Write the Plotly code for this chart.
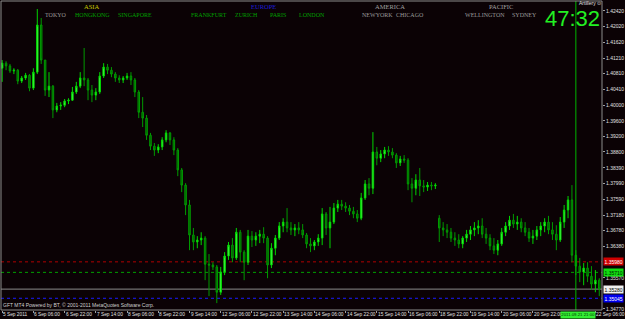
import plotly.graph_objects as go

# ---------------- data (EURUSD) ----------------
open_ = [
    1.4095, 1.4108, 1.4101, 1.4088, 1.4090, 1.4062, 1.4070, 1.4077, 1.4044, 1.4085,
    1.4206, 1.4116, 1.4039, 1.4049, 1.3988, 1.3998, 1.4000, 1.4011, 1.4013, 1.4034,
    1.4049, 1.4070, 1.4065, 1.4039, 1.4026, 1.4034, 1.4075, 1.4098, 1.4090, 1.4080,
    1.4070, 1.4065, 1.4070, 1.4075, 1.4065, 1.4034, 1.3982, 1.3967, 1.3923, 1.3895,
    1.3885, 1.3893, 1.3911, 1.3929, 1.3911, 1.3885, 1.3834, 1.3795, 1.3744, 1.3667,
    1.3649, 1.3654, 1.3659, 1.3592, 1.3590, 1.3585, 1.3520, 1.3572, 1.3613, 1.3641,
    1.3608, 1.3674, 1.3623, 1.3597, 1.3664, 1.3654, 1.3664, 1.3669, 1.3659, 1.3590,
    1.3633, 1.3659, 1.3690, 1.3700, 1.3685, 1.3680, 1.3685, 1.3680, 1.3667, 1.3644,
    1.3639, 1.3649, 1.3659, 1.3721, 1.3685, 1.3700, 1.3736, 1.3746, 1.3741, 1.3736,
    1.3728, 1.3721, 1.3710, 1.3762, 1.3798, 1.3787, 1.3880, 1.3864, 1.3875, 1.3885,
    1.3880, 1.3872, 1.3852, 1.3862, 1.3859, 1.3798, 1.3787, 1.3808, 1.3793, 1.3790,
    1.3795, 1.3793, 1.3710, 1.3685, 1.3680, 1.3674, 1.3659, 1.3654, 1.3644, 1.3659,
    1.3669, 1.3680, 1.3685, 1.3690, 1.3669, 1.3659, 1.3639, 1.3628, 1.3644, 1.3674,
    1.3690, 1.3705, 1.3695, 1.3700, 1.3685, 1.3674, 1.3659, 1.3664, 1.3680, 1.3690,
    1.3700, 1.3680, 1.3669, 1.3654, 1.3700, 1.3731, 1.3757, 1.3615, 1.3587, 1.3572,
    1.3582, 1.3561, 1.3541, 1.3551]

high = [
    1.4116, 1.4113, 1.4106, 1.4095, 1.4093, 1.4075, 1.4083, 1.4080, 1.4095, 1.4247,
    1.4224, 1.4116, 1.4085, 1.4052, 1.4006, 1.4008, 1.4016, 1.4018, 1.4047, 1.4060,
    1.4085, 1.4147, 1.4070, 1.4052, 1.4044, 1.4085, 1.4108, 1.4106, 1.4098, 1.4085,
    1.4077, 1.4075, 1.4083, 1.4085, 1.4070, 1.4039, 1.4021, 1.3975, 1.3929, 1.3903,
    1.3900, 1.3918, 1.3936, 1.3931, 1.3918, 1.3890, 1.3839, 1.3800, 1.3757, 1.3685,
    1.3664, 1.3674, 1.3664, 1.3618, 1.3597, 1.3590, 1.3585, 1.3623, 1.3649, 1.3659,
    1.3685, 1.3680, 1.3628, 1.3680, 1.3677, 1.3674, 1.3680, 1.3687, 1.3664, 1.3646,
    1.3667, 1.3700, 1.3710, 1.3736, 1.3700, 1.3695, 1.3700, 1.3695, 1.3672, 1.3659,
    1.3654, 1.3669, 1.3736, 1.3726, 1.3739, 1.3749, 1.3757, 1.3757, 1.3751, 1.3744,
    1.3739, 1.3731, 1.3775, 1.3808, 1.3813, 1.3931, 1.3893, 1.3885, 1.3893, 1.3895,
    1.3890, 1.3877, 1.3870, 1.3872, 1.3864, 1.3813, 1.3823, 1.3839, 1.3808, 1.3803,
    1.3803, 1.3800, 1.3718, 1.3700, 1.3695, 1.3685, 1.3674, 1.3669, 1.3664, 1.3680,
    1.3690, 1.3700, 1.3705, 1.3710, 1.3685, 1.3669, 1.3659, 1.3654, 1.3685, 1.3700,
    1.3716, 1.3721, 1.3716, 1.3710, 1.3700, 1.3685, 1.3680, 1.3690, 1.3700, 1.3710,
    1.3716, 1.3700, 1.3692, 1.3713, 1.3744, 1.3767, 1.3795, 1.3628, 1.3608, 1.3595,
    1.3597, 1.3587, 1.3577, 1.3556]

low = [
    1.4060, 1.4090, 1.4083, 1.4080, 1.4054, 1.4057, 1.4065, 1.4036, 1.4039, 1.4080,
    1.4106, 1.4024, 1.4021, 1.3967, 1.3982, 1.3988, 1.3995, 1.4003, 1.4011, 1.4029,
    1.4044, 1.4049, 1.4013, 1.4008, 1.4013, 1.4029, 1.4070, 1.4080, 1.4072, 1.4060,
    1.4057, 1.4057, 1.4065, 1.4052, 1.4021, 1.3967, 1.3944, 1.3911, 1.3885, 1.3870,
    1.3877, 1.3885, 1.3905, 1.3898, 1.3872, 1.3818, 1.3777, 1.3718, 1.3628, 1.3628,
    1.3633, 1.3641, 1.3551, 1.3510, 1.3577, 1.3492, 1.3513, 1.3564, 1.3603, 1.3597,
    1.3603, 1.3597, 1.3551, 1.3590, 1.3636, 1.3639, 1.3646, 1.3646, 1.3556, 1.3582,
    1.3615, 1.3654, 1.3674, 1.3674, 1.3667, 1.3664, 1.3669, 1.3659, 1.3633, 1.3623,
    1.3628, 1.3639, 1.3641, 1.3667, 1.3633, 1.3695, 1.3726, 1.3731, 1.3726, 1.3718,
    1.3710, 1.3700, 1.3705, 1.3757, 1.3769, 1.3772, 1.3846, 1.3854, 1.3864, 1.3870,
    1.3864, 1.3839, 1.3844, 1.3852, 1.3782, 1.3751, 1.3769, 1.3767, 1.3777, 1.3780,
    1.3782, 1.3785, 1.3649, 1.3664, 1.3659, 1.3649, 1.3639, 1.3633, 1.3633, 1.3649,
    1.3654, 1.3664, 1.3669, 1.3659, 1.3644, 1.3628, 1.3618, 1.3615, 1.3639, 1.3664,
    1.3680, 1.3685, 1.3680, 1.3674, 1.3664, 1.3649, 1.3644, 1.3654, 1.3664, 1.3674,
    1.3669, 1.3654, 1.3628, 1.3649, 1.3685, 1.3710, 1.3597, 1.3564, 1.3546, 1.3538,
    1.3546, 1.3526, 1.3520, 1.3510]

close = [
    1.4108, 1.4101, 1.4088, 1.4090, 1.4062, 1.4070, 1.4077, 1.4044, 1.4085, 1.4206,
    1.4116, 1.4039, 1.4049, 1.3988, 1.3998, 1.4000, 1.4011, 1.4013, 1.4034, 1.4049,
    1.4070, 1.4065, 1.4039, 1.4026, 1.4034, 1.4075, 1.4098, 1.4090, 1.4080, 1.4070,
    1.4065, 1.4070, 1.4075, 1.4065, 1.4034, 1.3982, 1.3967, 1.3923, 1.3895, 1.3885,
    1.3893, 1.3911, 1.3929, 1.3911, 1.3885, 1.3834, 1.3795, 1.3744, 1.3667, 1.3649,
    1.3654, 1.3659, 1.3592, 1.3590, 1.3585, 1.3520, 1.3572, 1.3613, 1.3641, 1.3608,
    1.3674, 1.3623, 1.3597, 1.3664, 1.3654, 1.3664, 1.3669, 1.3659, 1.3590, 1.3633,
    1.3659, 1.3690, 1.3700, 1.3685, 1.3680, 1.3685, 1.3680, 1.3667, 1.3644, 1.3639,
    1.3649, 1.3659, 1.3721, 1.3685, 1.3700, 1.3736, 1.3746, 1.3741, 1.3736, 1.3728,
    1.3721, 1.3710, 1.3762, 1.3798, 1.3787, 1.3880, 1.3864, 1.3875, 1.3885, 1.3880,
    1.3872, 1.3852, 1.3862, 1.3859, 1.3798, 1.3787, 1.3808, 1.3793, 1.3790, 1.3795,
    1.3793, 1.3795, 1.3685, 1.3680, 1.3674, 1.3659, 1.3654, 1.3644, 1.3659, 1.3669,
    1.3680, 1.3685, 1.3690, 1.3669, 1.3659, 1.3639, 1.3628, 1.3644, 1.3674, 1.3690,
    1.3705, 1.3695, 1.3700, 1.3685, 1.3674, 1.3659, 1.3664, 1.3680, 1.3690, 1.3700,
    1.3680, 1.3669, 1.3654, 1.3700, 1.3731, 1.3757, 1.3615, 1.3587, 1.3572, 1.3582,
    1.3561, 1.3541, 1.3551, 1.3528]

time_ticks = [0, 8, 16, 24, 32, 40, 48, 56, 64, 72, 80, 88, 96, 104, 112, 120, 128, 136, 152]
time_labels = ["5 Sep 2011", "6 Sep 06:00", "6 Sep 22:00", "7 Sep 14:00", "8 Sep 06:00",
               "8 Sep 22:00", "9 Sep 14:00", "12 Sep 06:00", "12 Sep 22:00", "13 Sep 14:00",
               "14 Sep 06:00", "14 Sep 22:00", "15 Sep 14:00", "16 Sep 06:00", "18 Sep 22:00",
               "19 Sep 14:00", "20 Sep 06:00", "20 Sep 22:00", "22 Sep 06:00"]
cursor_index = 147
cursor_label = "2011.09.21 21:00"

price_ticks = [1.42420, 1.42020, 1.41620, 1.41210, 1.40810, 1.40410, 1.40000, 1.39600,
               1.39200, 1.38800, 1.38390, 1.37990, 1.37590, 1.37180, 1.36780, 1.36380,
               1.35570, 1.34770]
price_labels = ["1.42420", "1.42020", "1.41620", "1.41210", "1.40810", "1.40410", "1.40000",
                "1.39600", "1.39200", "1.38800", "1.38390", "1.37990", "1.37590", "1.37180",
                "1.36780", "1.36380", "1.35570", "1.34770"]

level_red = 1.35980
level_green = 1.35710
level_bid = 1.35280
level_blue = 1.35045

regions = ["ASIA", "EUROPE", "AMERICA", "PACIFIC"]
cities = ["TOKYO", "HONGKONG", "SINGAPORE", "FRANKFURT", "ZURICH", "PARIS", "LONDON",
          "NEWYORK", "CHICAGO", "WELLINGTON", "SYDNEY"]
clock_text = "47:32"

# ---------------- figure ----------------
W, H = 625, 319
ML, MR, MT, MB = 1, 19, 1, 9
PW, PH = W - ML - MR, H - MT - MB
BG = "#0b0205"


def pxx(px):
    return (px - ML) / PW


def pxy(py):
    return 1 - (py - MT) / PH


fig = go.Figure()
fig.add_trace(go.Candlestick(
    x=list(range(len(close))), open=open_, high=high, low=low, close=close,
    increasing=dict(line=dict(color="#00d400", width=1), fillcolor="#5cff5c"),
    decreasing=dict(line=dict(color="#009a00", width=1), fillcolor="#005800"),
    whiskerwidth=0, hoverinfo="skip"))

shapes = []
for lvl, col, dash in [(level_red, "#b00000", "dot"), (level_green, "#00a000", "dot"),
                       (level_bid, "#8c8c8c", "solid"), (level_blue, "#1a1aff", "dot")]:
    shapes.append(dict(type="line", xref="paper", yref="y", x0=0, x1=1, y0=lvl, y1=lvl,
                       line=dict(color=col, width=1, dash=dash), layer="below"))
shapes.append(dict(type="line", xref="x", yref="paper", x0=cursor_index, x1=cursor_index,
                   y0=0, y1=1, line=dict(color="#00b400", width=1)))
shapes.append(dict(type="rect", xref="paper", yref="paper", x0=0, x1=1, y0=0, y1=1,
                   line=dict(color="#8c8c8c", width=1)))

ann = []
SERIF = "Liberation Serif"
SANS = "Liberation Sans"
region_style = [(92, "#c8c800"), (265, "#1c1cd8"), (393, "#a0a0a0"), (504, "#a0a0a0")]
for t, (cx, col) in zip(regions, region_style):
    ann.append(dict(text=t, x=pxx(cx), y=pxy(6), xref="paper", yref="paper", showarrow=False,
                    xanchor="center", yanchor="middle", borderpad=0,
                    font=dict(family=SERIF, size=6.5, color=col)))
city_style = [(56, "#9a9a9a"), (93, "#00a000"), (136, "#00a000"), (210, "#00a000"),
              (248, "#00a000"), (280, "#00a000"), (314, "#00a000"), (380, "#9a9a9a"),
              (413, "#9a9a9a"), (488, "#9a9a9a"), (528, "#9a9a9a")]
for t, (cx, col) in zip(cities, city_style):
    ann.append(dict(text=t, x=pxx(cx), y=pxy(15), xref="paper", yref="paper", showarrow=False,
                    xanchor="center", yanchor="middle", borderpad=0,
                    font=dict(family=SERIF, size=6, color=col)))

ann.append(dict(text=clock_text, x=pxx(605), y=pxy(18), xref="paper", yref="paper",
                xanchor="right", yanchor="middle", showarrow=False, borderpad=0,
                font=dict(family=SANS, size=22, color="#22f022")))
ann.append(dict(text="Artillery \u2299", x=pxx(582), y=pxy(3), xref="paper", yref="paper",
                xanchor="left", yanchor="middle", showarrow=False, borderpad=0,
                font=dict(family=SANS, size=5, color="#e0e0e0")))
ann.append(dict(text="GFT MT4 Powered by BT, \u00a9 2001-2011 MetaQuotes Software Corp.",
                x=pxx(2), y=pxy(305), xref="paper", yref="paper", xanchor="left",
                yanchor="middle", showarrow=False, borderpad=0,
                font=dict(family=SANS, size=5, color="#d0d0d0")))

for tv, tl in zip(time_ticks, time_labels):
    ann.append(dict(text=tl, x=tv, y=0, xref="x", yref="paper", xanchor="left", yanchor="top",
                    xshift=0, yshift=-1, showarrow=False, borderpad=0,
                    font=dict(family=SANS, size=4.8, color="#e0e0e0")))
ann.append(dict(text=cursor_label, x=cursor_index, y=0, xref="x", yref="paper", xanchor="center",
                yanchor="top", yshift=-1, xshift=2, showarrow=False, bgcolor="#33ee33",
                borderpad=0.3, font=dict(family=SANS, size=4.3, color="#003300")))

for lvl, lab, bg, fg in [(level_red, "1.35980", "#d00000", "#ffffff"),
                         (level_green, "1.35710", "#11dd11", "#002200"),
                         (level_bid, "1.35280", "#f0f0f0", "#000000"),
                         (level_blue, "1.35045", "#0000ee", "#ffffff")]:
    ann.append(dict(text=lab, x=1, y=lvl, xref="paper", yref="y", xanchor="left",
                    yanchor="middle", xshift=1, showarrow=False, bgcolor=bg, borderpad=0.5,
                    font=dict(family=SANS, size=5, color=fg)))

fig.update_layout(
    width=W, height=H, margin=dict(l=ML, r=MR, t=MT, b=MB),
    paper_bgcolor=BG, plot_bgcolor=BG, showlegend=False,
    shapes=shapes, annotations=ann, boxgap=0.45,
    xaxis=dict(range=[-0.3, 153.7], rangeslider=dict(visible=False), showgrid=False,
               zeroline=False, tickvals=time_ticks, showticklabels=False, ticks="outside",
               ticklen=2, tickcolor="#a0a0a0", showline=False, fixedrange=True),
    yaxis=dict(range=[1.34744, 1.42676], side="right", showgrid=False, zeroline=False,
               tickvals=price_ticks, ticktext=price_labels, ticks="outside", ticklen=2,
               tickcolor="#a0a0a0", tickfont=dict(family=SANS, size=5, color="#e0e0e0"),
               showline=False, fixedrange=True),
)

fig.write_html("out.html", config={"displayModeBar": False})
